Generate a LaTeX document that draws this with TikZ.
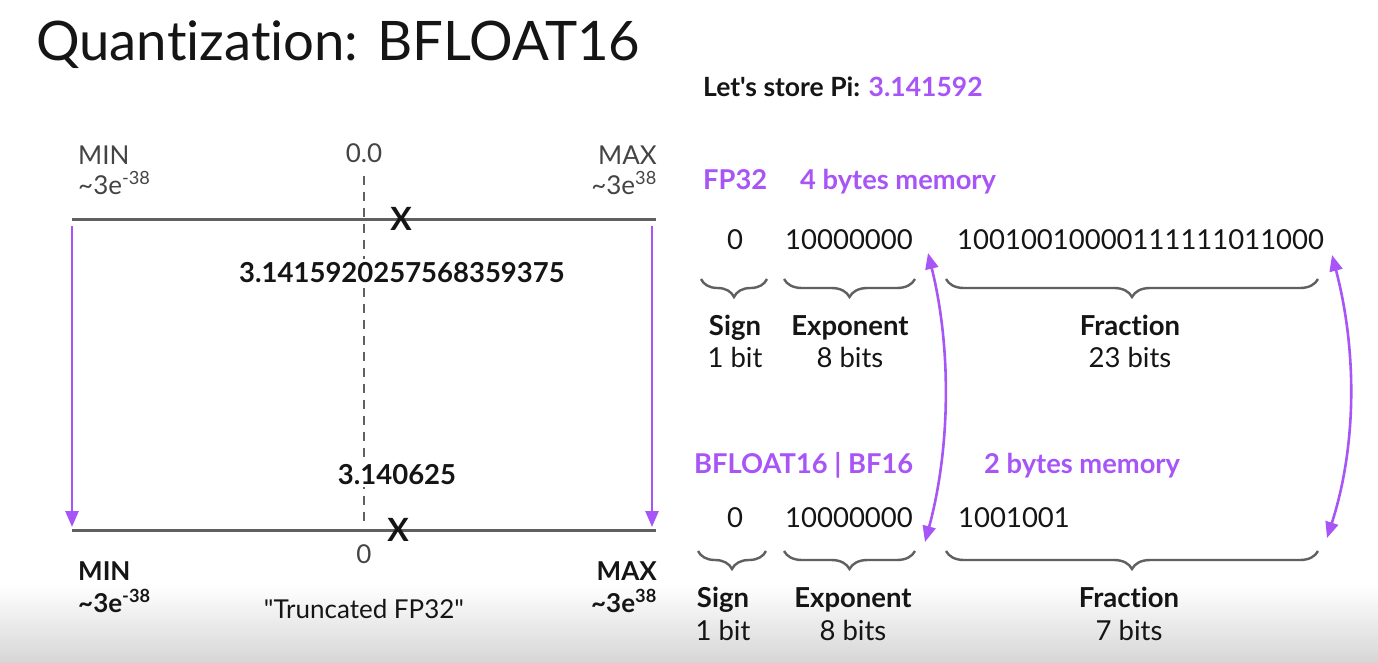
\documentclass[tikz,border=0pt]{standalone}
\usepackage{fontspec}
\setmainfont{Lato}[Ligatures={TeXOff,NoCommon}]
\usetikzlibrary{arrows.meta,decorations.pathreplacing}

\definecolor{vio}{HTML}{A855F7}
\definecolor{axisgray}{HTML}{606060}
\definecolor{ink}{HTML}{151515}
\definecolor{softink}{HTML}{444444}

\tikzset{
  txt/.style={inner sep=0pt, text=ink, anchor=base, font=\fontsize{27.5}{32}\selectfont},
  boldtxt/.style={txt, font=\fontsize{27.5}{32}\selectfont\bfseries},
  endlbl/.style={txt, text=softink, font=\fontsize{26}{30}\selectfont},
  endbold/.style={txt, font=\fontsize{26}{30}\selectfont\bfseries},
  headtxt/.style={txt, text=vio, anchor=base west, font=\fontsize{27.3}{32}\selectfont\bfseries},
  valtxt/.style={boldtxt, fill=white, inner sep=3pt},
  xmark/.style={inner sep=0pt, text=ink, font=\fontsize{32}{36}\selectfont\bfseries},
  axisline/.style={draw=axisgray, line width=3pt},
  zeroline/.style={draw=axisgray, line width=2.4pt, dash pattern=on 9pt off 7pt},
  brc/.style={draw=axisgray, line width=2.4pt, decorate,
    decoration={brace, mirror, amplitude=18pt}},
  varrow/.style={draw=vio, line width=2.6pt, -{Triangle[length=16pt, width=13pt]}},
  darrow/.style={draw=vio, line width=2.6pt,
    {Triangle[length=16pt, width=13pt]}-{Triangle[length=16pt, width=13pt]}}
}

\begin{document}
\begin{tikzpicture}[x=1pt,y=1pt]
\useasboundingbox (0,0) rectangle (1378,-662);
\fill[white] (0,0) rectangle (1378,-662);
\shade[top color=white, bottom color=black!16] (0,-585) rectangle (1378,-662);

% title
\node[txt, anchor=base west, font=\fontsize{54.5}{60}\selectfont] (title) at (36,-60) {Quantization: BFLOAT16};

% ---------------- number line panel ----------------
\coordinate (tl) at (72,-219);
\coordinate (tr) at (656,-219);
\coordinate (bl) at (72,-530);
\coordinate (br) at (656,-530);
\coordinate (dT) at (364,-176);
\coordinate (dB) at (364,-527);
\coordinate (aTL) at (72,-226);
\coordinate (aBL) at (72,-527);
\coordinate (aTR) at (652,-226);
\coordinate (aBR) at (652,-527);

\draw[zeroline] (dT) -- (dB);
\draw[axisline] (tl) -- (tr);
\draw[axisline] (bl) -- (br);
\draw[varrow] (aTL) -- (aBL);
\draw[varrow] (aTR) -- (aBR);

\node[endlbl, anchor=base west] (minT) at (78,-164) {MIN};
\node[endlbl, anchor=base west] (minTv) at (78,-194) {\textasciitilde3e\textsuperscript{-38}};
\node[endlbl, anchor=base east] (maxT) at (657,-164) {MAX};
\node[endlbl, anchor=base east] (maxTv) at (657,-194) {\textasciitilde3e\textsuperscript{38}};
\node[endlbl] (zeroT) at (364,-162) {0.0};

\node[xmark] (xT) at (401,-219) {X};
\node[valtxt] (piF) at (402,-282) {3.1415920257568359375};
\node[valtxt] (piB) at (397,-484) {3.140625};
\node[xmark] (xB) at (398,-530) {X};

\node[endlbl] (zeroB) at (364,-563) {0};
\node[endbold, anchor=base west] (minB) at (78,-580) {MIN};
\node[endbold, anchor=base west] (minBv) at (78,-612) {\textasciitilde3e\textsuperscript{-38}};
\node[endbold, anchor=base east] (maxB) at (657,-580) {MAX};
\node[endbold, anchor=base east] (maxBv) at (657,-612) {\textasciitilde3e\textsuperscript{38}};
\node[txt, font=\fontsize{26}{30}\selectfont] (trunc) at (364,-618) {"Truncated FP32"};

% ---------------- bit layouts ----------------
\node[txt, anchor=base west, font=\fontsize{26.5}{30}\selectfont\bfseries] (store) at (703,-96)
  {Let's store Pi: \textcolor{vio}{3.141592}};

% FP32
\node[headtxt] (fp) at (703,-189) {FP32};
\node[headtxt] (fpmem) at (800,-189) {4 bytes memory};
\node[txt] (s1) at (735,-249) {0};
\node[txt] (e1) at (849,-249) {10000000};
\node[txt, anchor=base west] (f1) at (957,-249) {10010010000111111011000};

\draw[brc] (701,-279) -- (767,-279);
\draw[brc] (784,-279) -- (915,-279);
\draw[brc] (946,-279) -- (1318,-279);

\node[boldtxt] (sg1) at (735,-335) {Sign};
\node[txt] (sb1) at (735,-367) {1 bit};
\node[boldtxt] (ex1) at (850,-335) {Exponent};
\node[txt] (eb1) at (850,-367) {8 bits};
\node[boldtxt] (fr1) at (1130,-335) {Fraction};
\node[txt] (fb1) at (1130,-367) {23 bits};

% BF16
\node[headtxt] (bf) at (694,-473) {BFLOAT16 | BF16};
\node[headtxt] (bfmem) at (984,-473) {2 bytes memory};
\node[txt] (s2) at (735,-527) {0};
\node[txt] (e2) at (849,-527) {10000000};
\node[txt, anchor=base west] (f2) at (958,-527) {1001001};

\draw[brc] (698,-551) -- (766,-551);
\draw[brc] (784,-551) -- (915,-551);
\draw[brc] (946,-551) -- (1318,-551);

\node[boldtxt] (sg2) at (723,-607) {Sign};
\node[txt] (sb2) at (723,-640) {1 bit};
\node[boldtxt] (ex2) at (853,-607) {Exponent};
\node[txt] (eb2) at (853,-640) {8 bits};
\node[boldtxt] (fr2) at (1129,-607) {Fraction};
\node[txt] (fb2) at (1129,-640) {7 bits};

% correspondence arrows between the two layouts
\coordinate (cutT) at (928,-253);
\coordinate (cutB) at (925,-542);
\coordinate (endT) at (1332,-255);
\coordinate (endB) at (1327,-538);
\draw[darrow] (cutT) .. controls (952,-350) and (950,-450) .. (cutB);
\draw[darrow] (endT) .. controls (1357,-350) and (1357,-445) .. (endB);
\end{tikzpicture}
\end{document}
